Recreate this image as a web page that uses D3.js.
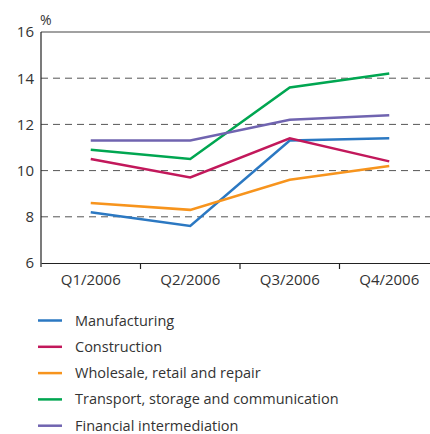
<!DOCTYPE html>
<html>
<head>
<meta charset="utf-8">
<script src="https://cdn.jsdelivr.net/npm/d3@7"></script>
<style>
  body { margin: 0; background: #fff; }
  svg text { font-family: "Open Sans", sans-serif; fill: #333; }
</style>
</head>
<body>
<svg id="chart" width="430" height="434"></svg>
<script>
const quarters = ["Q1/2006", "Q2/2006", "Q3/2006", "Q4/2006"];
const seriesNames = [
  "Manufacturing",
  "Construction",
  "Wholesale, retail and repair",
  "Transport, storage and communication",
  "Financial intermediation"
];
const seriesColours = ["#2b78c2", "#c2185b", "#f7941d", "#00a651", "#7064b0"];
const manufacturing = [8.2, 7.6, 11.3, 11.4];
const construction = [10.5, 9.7, 11.4, 10.4];
const wholesale = [8.6, 8.3, 9.6, 10.2];
const transport = [10.9, 10.5, 13.6, 14.2];
const financial = [11.3, 11.3, 12.2, 12.4];
const yTicks = [6, 8, 10, 12, 14, 16];
const gridTicks = [8, 10, 12, 14];

const allSeries = [manufacturing, construction, wholesale, transport, financial];

const svg = d3.select("#chart");
const plotLeft = 41, plotRight = 439, plotTop = 32, plotBottom = 263;

const x = d3.scaleBand().domain(quarters).range([plotLeft, plotRight]);
const y = d3.scaleLinear().domain([6, 16]).range([plotBottom, plotTop]);

// dashed grid
svg.append("g")
  .selectAll("line")
  .data(gridTicks)
  .enter()
  .append("line")
  .attr("x1", plotLeft)
  .attr("x2", 430)
  .attr("y1", (d) => y(d))
  .attr("y2", (d) => y(d))
  .attr("stroke", "#555")
  .attr("stroke-width", 1)
  .attr("stroke-dasharray", "7,5");

// top frame line
svg.append("line")
  .attr("x1", plotLeft).attr("x2", 430)
  .attr("y1", y(16)).attr("y2", y(16))
  .attr("stroke", "#444").attr("stroke-width", 1.2);

// y axis
const yAxis = svg.append("g")
  .attr("transform", `translate(${plotLeft},0)`)
  .call(d3.axisLeft(y).tickValues(yTicks).tickSize(0).tickPadding(7));
yAxis.select(".domain").attr("stroke", "#222").attr("stroke-width", 1.2)
  .attr("d", `M0,${plotTop}V${plotBottom + 4}`);
yAxis.selectAll("text").style("font-size", "15px").attr("fill", "#333");

svg.append("text")
  .attr("x", plotLeft - 1)
  .attr("y", 25)
  .style("font-size", "14px")
  .text("%");

// x axis
const xAxis = svg.append("g")
  .attr("transform", `translate(0,${plotBottom})`)
  .call(d3.axisBottom(x).tickSize(0).tickPadding(11));
xAxis.select(".domain").attr("stroke", "#222").attr("stroke-width", 1.2);
xAxis.selectAll("text").style("font-size", "15px").attr("fill", "#333");
xAxis.selectAll(".sep")
  .data(quarters.slice(1))
  .enter()
  .append("line")
  .attr("class", "sep")
  .attr("x1", (d) => x(d)).attr("x2", (d) => x(d))
  .attr("y1", 0).attr("y2", 6)
  .attr("stroke", "#222").attr("stroke-width", 1.2);

// lines
const line = d3.line()
  .x((d, i) => x(quarters[i]) + x.bandwidth() / 2)
  .y((d) => y(d));

svg.append("g")
  .selectAll("path")
  .data(allSeries)
  .enter()
  .append("path")
  .attr("d", line)
  .attr("fill", "none")
  .attr("stroke", (d, i) => seriesColours[i])
  .attr("stroke-width", 2.5);

// legend
const legend = svg.append("g")
  .selectAll("g")
  .data(seriesNames)
  .enter()
  .append("g")
  .attr("transform", (d, i) => `translate(38,${320.5 + i * 26.3})`);

legend.append("line")
  .attr("x1", 0).attr("x2", 24)
  .attr("stroke", (d, i) => seriesColours[i])
  .attr("stroke-width", 2.5);

legend.append("text")
  .attr("x", 37)
  .attr("y", 5)
  .style("font-size", "14.5px")
  .text((d) => d);
</script>
</body>
</html>
